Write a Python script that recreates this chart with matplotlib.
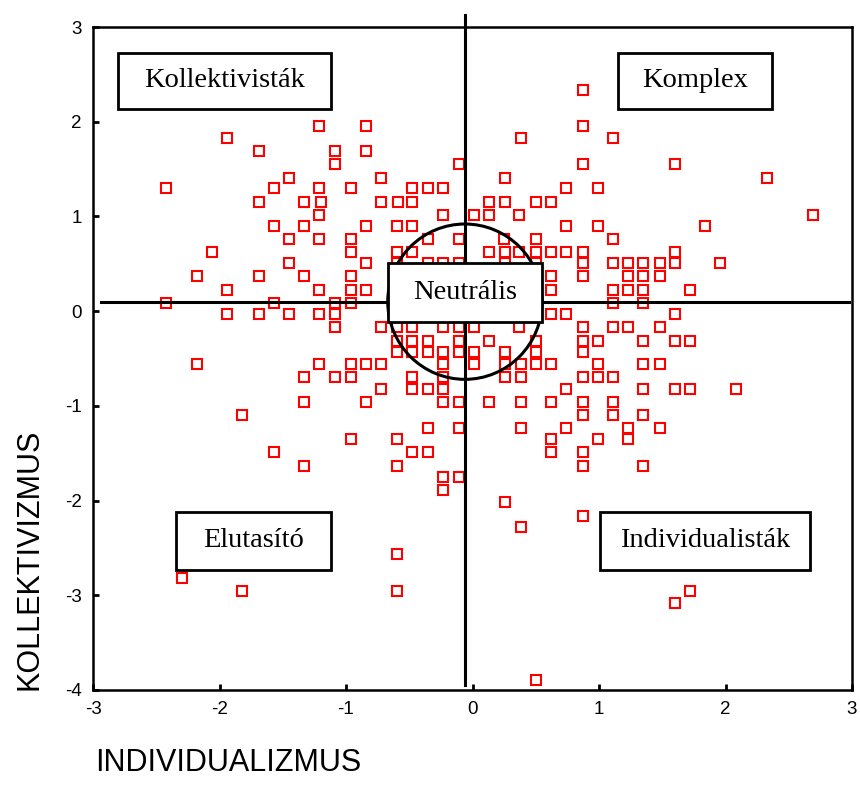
import matplotlib.pyplot as plt
from matplotlib.patches import Ellipse, Rectangle

plt.rcParams["axes.unicode_minus"] = False

# KOLLEKTIVIZMUS levels (rows of points) and the INDIVIDUALIZMUS scores found on each row
koll_levels = [2.34, 1.95, 1.83, 1.69, 1.55, 1.41, 1.30, 1.15, 1.01, 0.90, 0.76, 0.62,
               0.51, 0.37, 0.22, 0.09, -0.03, -0.17, -0.31, -0.43, -0.56, -0.70, -0.82,
               -0.96, -1.10, -1.23, -1.35, -1.49, -1.63, -1.75, -1.89, -2.02, -2.16,
               -2.28, -2.56, -2.82, -2.96, -3.08, -3.89]
indiv_by_level = [
    [0.87],
    [-1.21, -0.84, 0.87],
    [-1.94, 0.38, 1.11],
    [-1.69, -1.09, -0.84],
    [-1.09, -0.11, 0.87, 1.60],
    [-1.45, -0.72, 0.26, 2.33],
    [-2.42, -1.57, -1.21, -0.96, -0.48, -0.35, -0.23, 0.74, 0.99],
    [-1.69, -1.33, -1.20, -0.72, -0.59, -0.48, 0.13, 0.26, 0.50, 0.62],
    [-1.21, -0.23, 0.01, 0.13, 0.37, 2.69],
    [-1.57, -1.33, -0.84, -0.60, -0.48, 0.74, 0.99, 1.84],
    [-1.45, -1.21, -0.96, -0.35, -0.11, 0.25, 0.50, 1.11],
    [-2.06, -0.96, -0.60, -0.48, 0.13, 0.26, 0.37, 0.50, 0.62, 0.74, 0.87, 1.60],
    [-1.45, -0.84, -0.60, -0.35, -0.23, -0.11, 0.26, 0.50, 0.87, 1.11, 1.23, 1.35,
     1.48, 1.60, 1.96],
    [-2.18, -1.69, -1.33, -0.96, 0.62, 0.87, 1.23, 1.35, 1.48],
    [-1.94, -1.21, -0.96, -0.84, 0.62, 1.11, 1.23, 1.35, 1.72],
    [-2.42, -1.57, -1.09, -0.96, 1.11, 1.35],
    [-1.94, -1.69, -1.45, -1.21, -1.09, 0.62, 0.74, 1.60],
    [-1.09, -0.72, -0.60, -0.48, -0.23, -0.11, 0.01, 0.37, 0.87, 1.11, 1.23, 1.48],
    [-0.60, -0.48, -0.35, -0.11, 0.13, 0.50, 0.87, 0.99, 1.35, 1.60, 1.72],
    [-0.60, -0.48, -0.35, -0.23, -0.11, 0.01, 0.26, 0.50, 0.87],
    [-2.18, -1.21, -0.96, -0.84, -0.72, -0.23, 0.01, 0.26, 0.38, 0.50, 0.62, 0.99,
     1.35, 1.48],
    [-1.33, -1.09, -0.96, -0.48, -0.23, 0.26, 0.38, 0.87, 0.99, 1.11],
    [-0.72, -0.48, -0.35, -0.23, 0.74, 1.35, 1.60, 1.72, 2.08],
    [-1.33, -0.84, -0.23, -0.11, 0.13, 0.38, 0.62, 0.87, 1.11],
    [-1.82, 0.87, 1.11, 1.35],
    [-0.35, -0.11, 0.38, 0.74, 1.23, 1.48],
    [-0.96, -0.60, 0.62, 0.99, 1.23],
    [-1.57, -0.48, -0.35, 0.62, 0.87],
    [-1.33, -0.60, 0.87, 1.35],
    [-0.23, -0.11],
    [-0.23],
    [0.26],
    [0.87],
    [0.38],
    [-0.60],
    [-2.30],
    [-1.82, -0.60, 1.72],
    [1.60],
    [0.50],
]

# quadrant labels: (text, x0, x1, y0, y1)
boxes = [
    ("Kollektivisták", -2.80, -1.12, 2.13, 2.73),
    ("Komplex", 1.15, 2.37, 2.13, 2.73),
    ("Neutrális", -0.67, 0.55, -0.11, 0.51),
    ("Elutasító", -2.34, -1.12, -2.73, -2.12),
    ("Individualisták", 1.01, 2.67, -2.73, -2.12),
]

xs, ys = [], []
for lvl, row in zip(koll_levels, indiv_by_level):
    for v in row:
        xs.append(v)
        ys.append(lvl)

fig = plt.figure(figsize=(8.6, 8.01), dpi=100)
ax = fig.add_axes([93 / 860, 1 - 690 / 801, 759 / 860, 663 / 801])

ax.plot(xs, ys, linestyle="none", marker="s", ms=6.8, mfc="white", mec="red", mew=1.5, zorder=2)

# cross lines and neutral circle
ax.plot([-2.94, 2.98], [0.10, 0.10], color="black", lw=2.2, zorder=3)
ax.plot([-0.06, -0.06], [-3.95, 3.13], color="black", lw=2.2, zorder=3, clip_on=False)
ax.add_patch(Ellipse((-0.06, 0.10), 1.22, 1.64, fill=False, ec="black", lw=2.2, zorder=3))

for label, x0, x1, y0, y1 in boxes:
    ax.add_patch(Rectangle((x0, y0), x1 - x0, y1 - y0, fc="white", ec="black", lw=2, zorder=4))
    ax.text((x0 + x1) / 2, (y0 + y1) / 2, label, ha="center", va="center",
            family="Liberation Serif", fontsize=20.5, zorder=5)

ax.set_xlim(-3, 3)
ax.set_ylim(-4, 3)
ax.set_xticks(range(-3, 4))
ax.set_yticks(range(-4, 4))
ax.tick_params(direction="in", length=4, width=2, labelsize=13.5, pad=8)
for lab in ax.get_xticklabels() + ax.get_yticklabels():
    lab.set_family("Liberation Sans")
for sp in ax.spines.values():
    sp.set_linewidth(1.8)

fig.text(30 / 860, 1 - 690 / 801, "KOLLEKTIVIZMUS", rotation=90, ha="center", va="bottom",
         family="Liberation Sans", fontsize=22)
fig.text(95 / 860, 1 - 763 / 801, "INDIVIDUALIZMUS", ha="left", va="center",
         family="Liberation Sans", fontsize=22)

fig.savefig("out.png", dpi=100)
